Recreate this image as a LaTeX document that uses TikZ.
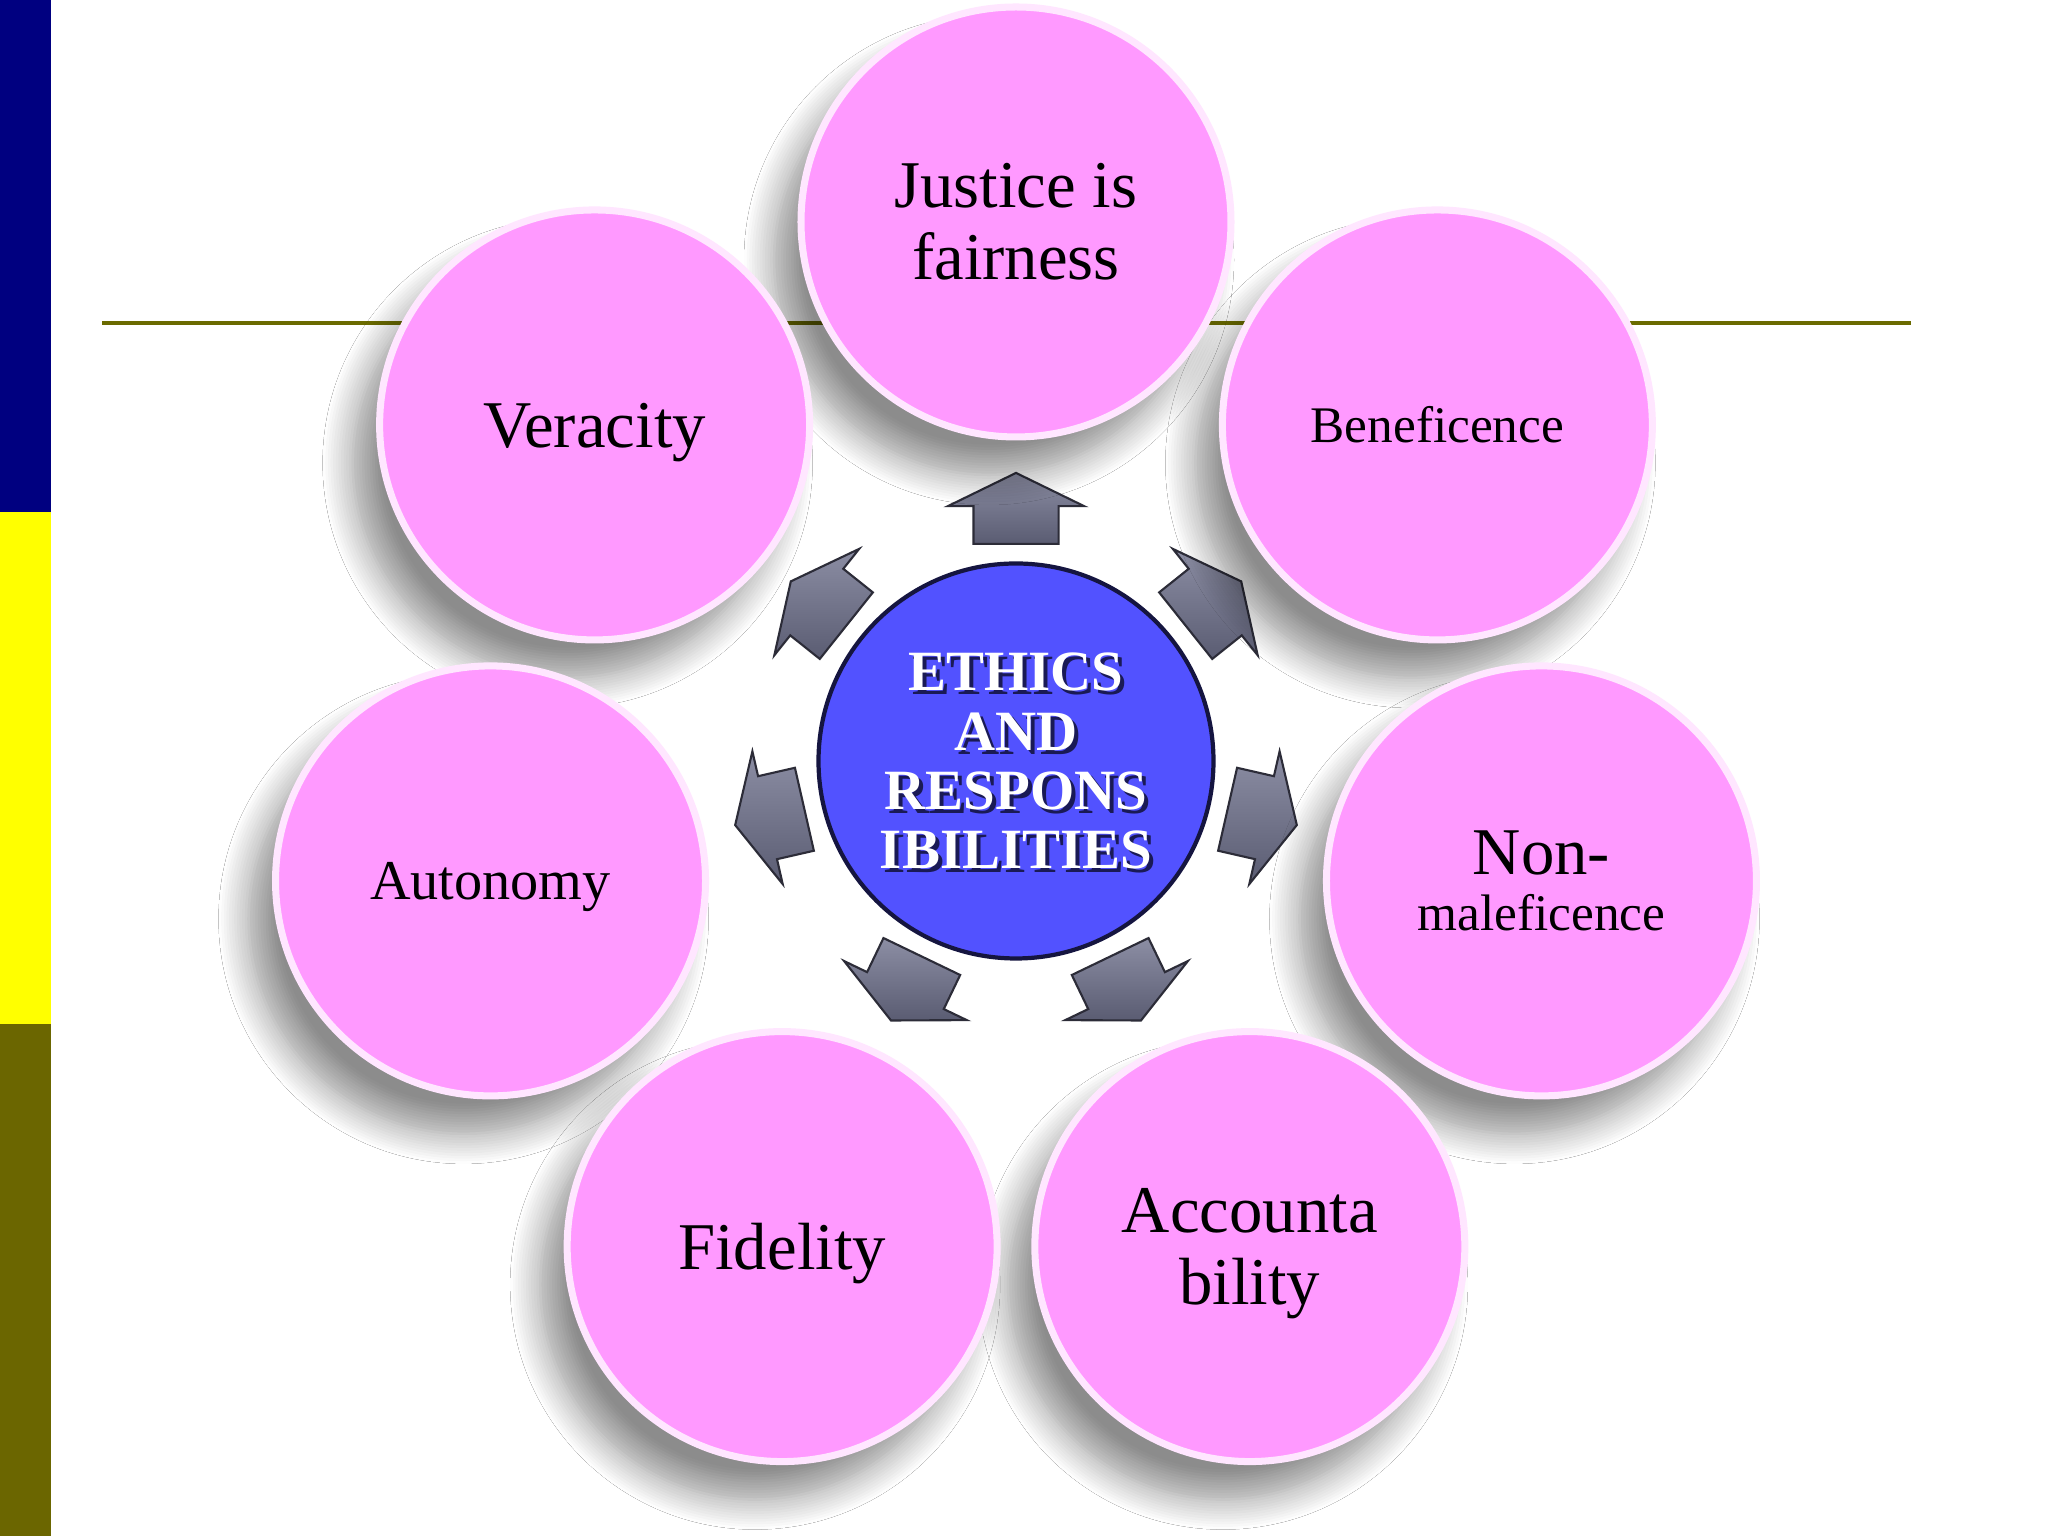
\documentclass[tikz,border=0pt]{standalone}
\usepackage{fontspec}
\setmainfont{Liberation Serif}
\usetikzlibrary{shapes.arrows,shadows.blur,calc}
\definecolor{petalpink}{HTML}{FF99FF}
\definecolor{petalrim}{HTML}{FFE6FF}
\definecolor{hubblue}{HTML}{5252FF}
\definecolor{hubedge}{HTML}{151540}
\definecolor{hubshade}{HTML}{1A1A55}
\definecolor{arrowlight}{HTML}{8C8EA4}
\definecolor{arrowdark}{HTML}{5A5C72}
\definecolor{arrowedge}{HTML}{2C2C38}
\definecolor{barnavy}{HTML}{000080}
\definecolor{baryellow}{HTML}{FFFF00}
\definecolor{barolive}{HTML}{6B6600}
\definecolor{ruleolive}{HTML}{6B6B00}
\newcommand{\petaltxt}{\fontsize{19}{20.5}\selectfont}
\newcommand{\midpetal}{\fontsize{16}{18}\selectfont}
\newcommand{\smallpetal}{\fontsize{14.6}{16}\selectfont}
\newcommand{\hubtxt}{\fontsize{16.2}{16.8}\selectfont\bfseries}
\newcommand{\nodepth}[1]{\raisebox{0pt}[\height][0pt]{#1}}
\tikzset{
  petal/.style={circle, minimum size=4.3cm, inner sep=0pt, align=center, fill=petalpink, draw=petalrim, line width=2pt, font=\petaltxt},
  petalshadow/.style={blur shadow={shadow xshift=-0.27cm, shadow yshift=-0.38cm, shadow blur radius=0.3cm, shadow blur steps=12, shadow opacity=45}},
  hub/.style={circle, minimum size=3.95cm, inner sep=0pt, fill=hubblue, draw=hubedge, line width=1.2pt},
  hubword/.style={align=center, font=\hubtxt, inner sep=0pt},
  spoke/.style={single arrow, minimum height=0.71cm, inner xsep=0pt, inner ysep=0.415cm, single arrow head extend=0.255cm, single arrow tip angle=128,
    top color=arrowlight, bottom color=arrowdark, draw=arrowedge, line width=0.6pt, anchor=tail},
  titlerule/.style={draw=ruleolive, line width=0.9pt},
}

\begin{document}
\begin{tikzpicture}
  \useasboundingbox (0,0) rectangle (20.48,15.36);
  \fill[white] (0,0) rectangle (20.48,15.36);
  % side bar
  \fill[barnavy] (0,10.24) rectangle (0.51,15.36);
  \fill[baryellow] (0,5.12) rectangle (0.51,10.24);
  \fill[barolive] (0,0) rectangle (0.51,5.12);
  % title rule
  \coordinate (ruleL) at (1.02,12.13);
  \coordinate (ruleR) at (19.11,12.13);
  \draw[titlerule] (ruleL) -- (ruleR);
  % centre
  \node[hub] (hub) at (10.16,7.75) {};
  \node[hubword, text=hubshade] (hubshadow) at ($(hub)+(0.04,-0.04)$) {ETHICS\\AND\\RESPONS\\IBILITIES};
  \node[hubword, text=white] (hubtext) at (hub) {ETHICS\\AND\\RESPONS\\IBILITIES};
  % arrows
  \foreach \k in {0,...,6} {
    \pgfmathsetmacro{\ang}{90-\k*360/7}
    \node[spoke, rotate=\ang] (arr\k) at ($(hub)+(\ang:2.16)$) {};
  }
  % shadows under all petals first
  \foreach \ang in {90,38.571,-12.857,-64.286,-115.714,-167.143,141.429}
    \path[petalshadow] ($(hub)+(\ang:5.39)$) circle[radius=2.15cm];
  % petals
  \foreach \ang/\nm/\txt in {
      90/just/{Justice is\\fairness},
      38.571/benef/{\smallpetal Beneficence},
      -12.857/nonmal/{Non-\\[-4.5pt]{\smallpetal maleficence}},
      -64.286/acct/{Accounta\\\nodepth{bility}},
      -115.714/fid/{\nodepth{Fidelity}},
      -167.143/auto/{\midpetal\nodepth{Autonomy}},
      141.429/ver/{\nodepth{Veracity}}} {
    \node[petal] (\nm) at ($(hub)+(\ang:5.39)$) {\txt};
  }
\end{tikzpicture}
\end{document}
